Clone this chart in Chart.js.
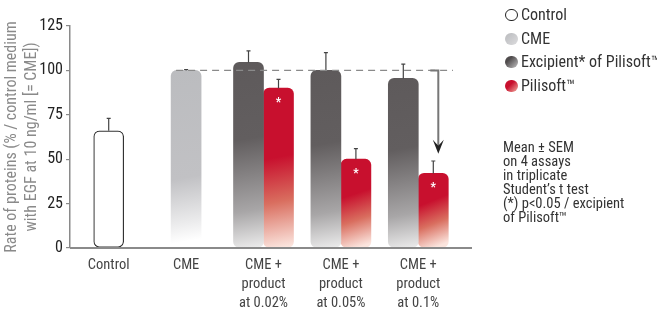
<!DOCTYPE html>
<html>
<head>
<meta charset="utf-8">
<script src="https://cdn.jsdelivr.net/npm/chart.js@4/dist/chart.umd.min.js"></script>
<style>
  body { margin: 0; background: #fff; }
  #wrap { position: relative; width: 657px; height: 312px; font-family: Roboto, sans-serif; font-stretch: condensed; color: #333; }
  #myChart { position: absolute; left: 0; top: 0; }
  .leg { position: absolute; left: 505px; font-size: 16px; line-height: 18px; white-space: nowrap; }
  .leg i { display: inline-block; width: 13px; height: 12px; border-radius: 6px; vertical-align: -1px; margin-right: 3px; box-sizing: border-box; }
  #note { position: absolute; left: 503px; top: 141px; font-size: 14.5px; line-height: 14px; }
</style>
</head>
<body>
<div id="wrap">
  <canvas id="myChart" width="657" height="312"></canvas>
  <div class="leg" style="top:6px"><i style="background:#fff;border:1px solid #222"></i>Control</div>
  <div class="leg" style="top:30px"><i style="background:linear-gradient(135deg,#b9babd,#dcdcde)"></i>CME</div>
  <div class="leg" style="top:53px"><i style="background:linear-gradient(135deg,#4f4b4c 30%,#c4c3c4)"></i>Excipient* of Pilisoft™</div>
  <div class="leg" style="top:77px"><i style="background:linear-gradient(135deg,#c8102e 40%,#f2b0a2)"></i>Pilisoft™</div>
  <div id="note">Mean ± SEM<br>on 4 assays<br>in triplicate<br>Student’s t test<br>(*) p&lt;0.05 / excipient<br>of Pilisoft™</div>
</div>
<script>
// datos
const categorias = ["Control", "CME", ["CME +", "product", "at 0.02%"], ["CME +", "product", "at 0.05%"], ["CME +", "product", "at 0.1%"]];
const valoresControl = [66, null, null, null, null];
const valoresCme = [null, 100, null, null, null];
const valoresExcipient = [null, null, 104.5, 100, 95.5];
const valoresPilisoft = [null, null, 90, 50, 42];
const semControl = [7, null, null, null, null];
const semCme = [null, 0.5, null, null, null];
const semExcipient = [null, null, 6.5, 10, 8];
const semPilisoft = [null, null, 5, 6, 7];
const significativo = [false, false, true, true, true];
const valorReferencia = 100;
const puntaFlecha = 53;
const ticksY = [0, 25, 50, 75, 100, 125];

// "condensed" va en el lugar del peso para que el canvas use Roboto estrecha
const fuente = "Roboto";
const estrecha = "condensed";

// degradado por barra
function degradado(ctx, paradas) {
  const chart = ctx.chart;
  if (!chart.chartArea || ctx.raw == null) return paradas[0][1];
  const y = chart.scales.y;
  const x = chart.scales.x;
  const top = y.getPixelForValue(ctx.raw);
  const bottom = y.getPixelForValue(0);
  const cx = x.getPixelForValue(ctx.dataIndex);
  const g = chart.ctx.createLinearGradient(cx - 15, top, cx + 15, bottom);
  paradas.forEach(p => g.addColorStop(p[0], p[1]));
  return g;
}

const extras = {
  id: "extras",
  afterDatasetsDraw(chart) {
    const c = chart.ctx;
    const y = chart.scales.y;
    const area = chart.chartArea;

    // linea base del eje x
    c.save();
    c.strokeStyle = "#8a8a8a";
    c.lineWidth = 2;
    c.beginPath();
    c.moveTo(area.left, area.bottom);
    c.lineTo(472, area.bottom);
    c.stroke();

    // barras de error
    const series = [[0, semControl], [1, semCme], [2, semExcipient], [3, semPilisoft]];
    c.strokeStyle = "#444";
    c.lineWidth = 1.2;
    series.forEach(([ds, sem]) => {
      const meta = chart.getDatasetMeta(ds);
      meta.data.forEach((bar, i) => {
        const v = chart.data.datasets[ds].data[i];
        if (v == null || sem[i] == null) return;
        const yTop = y.getPixelForValue(v + sem[i]);
        c.beginPath();
        c.moveTo(bar.x, y.getPixelForValue(v));
        c.lineTo(bar.x, yTop);
        c.moveTo(bar.x - 2, yTop);
        c.lineTo(bar.x + 2, yTop);
        c.stroke();
      });
    });

    // asteriscos
    const metaP = chart.getDatasetMeta(3);
    c.fillStyle = "#fff";
    c.font = "bold 12px " + fuente;
    c.textAlign = "center";
    c.textBaseline = "middle";
    metaP.data.forEach((bar, i) => {
      if (!significativo[i] || valoresPilisoft[i] == null) return;
      c.fillText("*", bar.x, bar.y + 15);
    });

    // linea discontinua de referencia
    const yRef = y.getPixelForValue(valorReferencia);
    const barCme = chart.getDatasetMeta(1).data[1];
    c.strokeStyle = "#8a8a8a";
    c.lineWidth = 1.2;
    c.setLineDash([7, 5]);
    c.beginPath();
    c.moveTo(barCme.x - 10, yRef);
    c.lineTo(453, yRef);
    c.stroke();
    c.setLineDash([]);

    // flecha
    const ultima = metaP.data[4];
    const xf = ultima.x + 5;
    const yTip = y.getPixelForValue(puntaFlecha);
    c.strokeStyle = "#777";
    c.lineWidth = 2;
    c.beginPath();
    c.moveTo(xf - 8, yRef);
    c.lineTo(xf, yRef);
    c.lineTo(xf, yTip - 6);
    c.stroke();
    c.fillStyle = "#222";
    c.beginPath();
    c.moveTo(xf - 5.5, yTip - 14);
    c.lineTo(xf, yTip - 8);
    c.lineTo(xf + 5.5, yTip - 14);
    c.lineTo(xf, yTip);
    c.closePath();
    c.fill();
    c.restore();
  }
};

const config = {
  type: "bar",
  data: {
    labels: categorias,
    datasets: [
      {
        label: "Control",
        data: valoresControl,
        backgroundColor: "#fff",
        borderColor: "#333",
        borderWidth: 1.2
      },
      {
        label: "CME",
        data: valoresCme,
        backgroundColor: ctx => degradado(ctx, [[0, "#bbbcbf"], [0.6, "#c1c1c4"], [0.85, "#ececed"], [0.95, "#ffffff"]])
      },
      {
        label: "Excipient* of Pilisoft™",
        data: valoresExcipient,
        backgroundColor: ctx => degradado(ctx, [[0, "#5e5a5b"], [0.4, "#625e5f"], [0.78, "#a8a6a7"], [1, "#f2f2f2"]])
      },
      {
        label: "Pilisoft™",
        data: valoresPilisoft,
        backgroundColor: ctx => degradado(ctx, [[0, "#c8102e"], [0.45, "#c8102e"], [0.72, "#d96e5f"], [1, "#fbe4dd"]])
      }
    ]
  },
  options: {
    responsive: false,
    animation: false,
    skipNull: true,
    barThickness: 30,
    borderRadius: 6,
    borderSkipped: false,
    layout: { padding: { top: 26, right: 200, bottom: 0, left: 0 } },
    plugins: {
      legend: { display: false },
      tooltip: { enabled: false }
    },
    scales: {
      x: {
        grid: { display: false, drawTicks: false },
        border: { display: false },
        ticks: { color: "#444", padding: 8, maxRotation: 0, autoSkip: false, font: { family: fuente, weight: estrecha, size: 14.5, lineHeight: 1.3 } },
        afterFit(scale) { scale.height = 64; }
      },
      y: {
        min: 0,
        max: 125,
        afterBuildTicks(scale) { scale.ticks = ticksY.map(v => ({ value: v })); },
        grid: { drawOnChartArea: false, drawTicks: true, tickLength: 4, color: "#8a8a8a", lineWidth: 1.2 },
        border: { color: "#8a8a8a", width: 1.5 },
        ticks: { color: "#222", padding: 3, font: { family: fuente, weight: estrecha, size: 16 } },
        title: {
          display: true,
          text: ["Rate of proteins (% / control medium", "with EGF at 10 ng/ml [= CME])"],
          color: "#8a8a8a",
          font: { family: fuente, weight: estrecha, size: 16, lineHeight: 1.25 },
          padding: { top: 2, bottom: 0 }
        },
        afterFit(scale) { scale.width = 70; }
      }
    }
  },
  plugins: [extras]
};

window.myChart = new Chart(document.getElementById("myChart"), config);
</script>
</body>
</html>
